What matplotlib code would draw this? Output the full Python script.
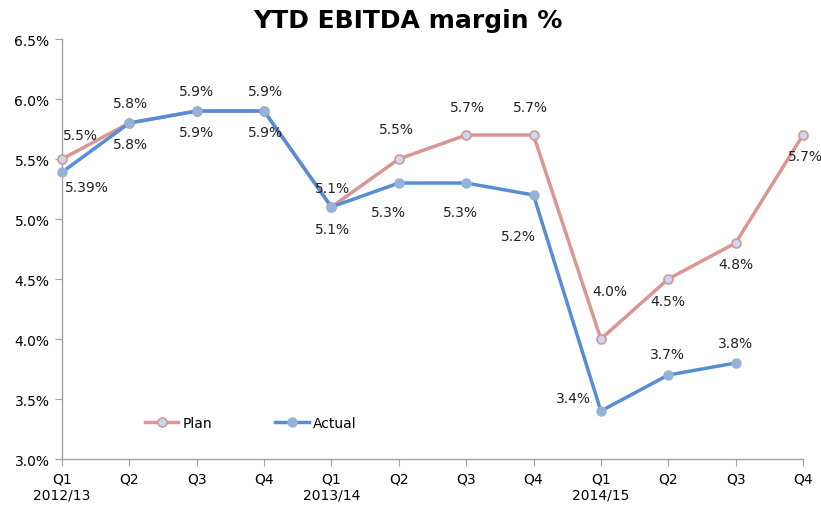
import matplotlib.pyplot as plt
from matplotlib.ticker import FuncFormatter

quarters = ["Q1\n2012/13", "Q2", "Q3", "Q4", "Q1\n2013/14", "Q2", "Q3", "Q4",
            "Q1\n2014/15", "Q2", "Q3", "Q4"]
plan = [5.5, 5.8, 5.9, 5.9, 5.1, 5.5, 5.7, 5.7, 4.0, 4.5, 4.8, 5.7]
actual = [5.39, 5.8, 5.9, 5.9, 5.1, 5.3, 5.3, 5.2, 3.4, 3.7, 3.8]
plan_labels = ["5.5%", "5.8%", "5.9%", "5.9%", "5.1%", "5.5%", "5.7%", "5.7%",
               "4.0%", "4.5%", "4.8%", "5.7%"]
actual_labels = ["5.39%", "5.8%", "5.9%", "5.9%", "5.1%", "5.3%", "5.3%", "5.2%",
                 "3.4%", "3.7%", "3.8%"]

# label offsets in pixels (dx, dy), dy positive = up
plan_off = [(18, 24), (1, 20), (0, 20), (1, 20), (1, 19), (-2, 30), (1, 28), (-3, 28),
            (9, 48), (0, -22), (0, -21), (2, -21)]
actual_off = [(25, -15), (1, -21), (0, -21), (1, -21), (1, -22), (-10, -29), (-6, -29),
              (-15, -41), (-27, 13), (-1, 21), (0, 20)]


def main():
    fig = plt.figure(figsize=(8.21, 5.06), dpi=100)
    ax = fig.add_axes([0.0755, 0.0909, 0.9025, 0.830])

    x_plan = list(range(len(plan)))
    x_act = list(range(len(actual)))
    ax.plot(x_plan, plan, color='#D99694', lw=2.5, marker='o', ms=6.5,
            mfc='#C6D9F1', mec='#D99694', mew=1.2, label='Plan', zorder=3)
    ax.plot(x_act, actual, color='#558ED5', lw=2.5, marker='o', ms=6.5,
            mfc='#95B3D7', mec='#95B3D7', mew=1.0, label='Actual', zorder=4)

    for xi, yi, lab, (dx, dy) in zip(x_plan, plan, plan_labels, plan_off):
        ax.annotate(lab, (xi, yi), xytext=(dx * 0.72, dy * 0.72), textcoords='offset points',
                    ha='center', va='center', fontsize=10, color='#222222', zorder=5)
    for xi, yi, lab, (dx, dy) in zip(x_act, actual, actual_labels, actual_off):
        ax.annotate(lab, (xi, yi), xytext=(dx * 0.72, dy * 0.72), textcoords='offset points',
                    ha='center', va='center', fontsize=10, color='#222222', zorder=5)

    ax.set_xlim(0, len(quarters) - 1)
    ax.set_ylim(3.0, 6.5)
    ax.set_xticks(range(len(quarters)))
    ax.set_xticklabels(quarters, fontsize=10)
    ax.set_yticks([3.0, 3.5, 4.0, 4.5, 5.0, 5.5, 6.0, 6.5])
    ax.yaxis.set_major_formatter(FuncFormatter(lambda v, p: f"{v:.1f}%"))
    ax.tick_params(axis='y', labelsize=10, length=5, color='#A0A0A0', pad=4)
    ax.tick_params(axis='x', length=5, color='#A0A0A0', pad=4)
    for side in ['top', 'right']:
        ax.spines[side].set_visible(False)
    for side in ['left', 'bottom']:
        ax.spines[side].set_color('#A0A0A0')
        ax.spines[side].set_linewidth(1.0)
    ax.spines['bottom'].set_zorder(6)
    for ln in ax.lines:
        ln.set_clip_on(False)

    ax.legend(loc='lower left', bbox_to_anchor=(0.095, 0.04), ncol=2, frameon=False,
              fontsize=10, handlelength=2.4, columnspacing=4.5, handletextpad=0.35)

    fig.text(0.497, 0.958, "YTD EBITDA margin %", ha='center', va='center',
             fontsize=18, fontweight='bold')

    fig.savefig("out.png", dpi=100)


if __name__ == '__main__':
    main()
